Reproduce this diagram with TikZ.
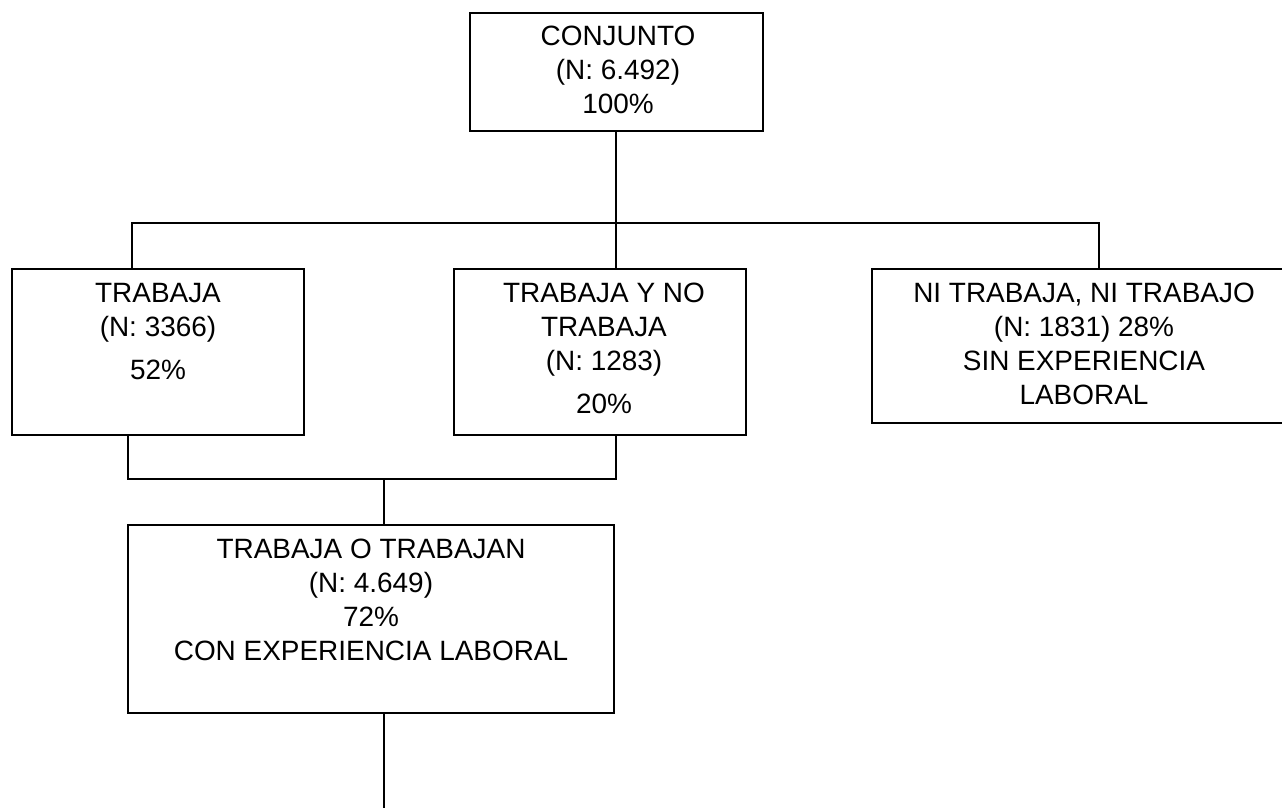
\documentclass[tikz,border=0pt]{standalone}
\usepackage{fontspec}
\setmainfont{Liberation Sans}

\begin{document}
\begin{tikzpicture}[x=0.02cm, y=-0.02cm]
\def \px {0.02cm}
\tikzset{
  caja/.style={draw, rectangle, line width=0.9pt, inner sep=0pt},
  texto/.style={anchor=north, align=center, inner sep=0pt, font=\fontsize{15.9}{19.3}\selectfont},
  linea/.style={line width=0.9pt}
}
\path[use as bounding box, clip] (0,0) rectangle (1282,808);

\node[caja, minimum width=293*\px, minimum height=118*\px] at (616.5,72) (conj) {};
\node[caja, minimum width=292*\px, minimum height=166*\px] at (158,352) (trab) {};
\node[caja, minimum width=292*\px, minimum height=166*\px] at (600,352) (tyn) {};
\node[caja, minimum width=422*\px, minimum height=154*\px] at (1083,346) (ni) {};
\node[caja, minimum width=486*\px, minimum height=188*\px] at (371,619) (total) {};

\node[texto] at (618,26) (conjtxt) {CONJUNTO\\(N: 6.492)\\100\%};
\node[texto] at (158,283) (trabtxt) {TRABAJA\\(N: 3366)\\[5pt]52\%};
\node[texto] at (604,283) (tyntxt) {TRABAJA Y NO\\TRABAJA\\(N: 1283)\\[5pt]20\%};
\node[texto] at (1084,283) (nitxt) {NI TRABAJA, NI TRABAJO\\(N: 1831) 28\%\\SIN EXPERIENCIA\\LABORAL};
\node[texto] at (371,539) (totaltxt) {TRABAJA O TRABAJAN\\(N: 4.649)\\72\%\\CON EXPERIENCIA LABORAL};

% ramas superiores
\coordinate (hl) at (132,223);
\coordinate (hc) at (616,223);
\coordinate (hr) at (1099,223);
\draw[linea] (conj.south -| hc) -- (hc) -- (tyn.north -| hc);
\draw[linea] (trab.north -| hl) -- (hl) -- (hr) -- (ni.north -| hr);

% union inferior
\coordinate (jl) at (128,479);
\coordinate (jr) at (616,479);
\coordinate (jm) at (384,479);
\coordinate (fin) at (384,808);
\draw[linea] (trab.south -| jl) -- (jl) -- (jr) -- (tyn.south -| jr);
\draw[linea] (jm) -- (total.north -| jm);
\draw[linea] (total.south -| fin) -- (fin);

\end{tikzpicture}
\end{document}
